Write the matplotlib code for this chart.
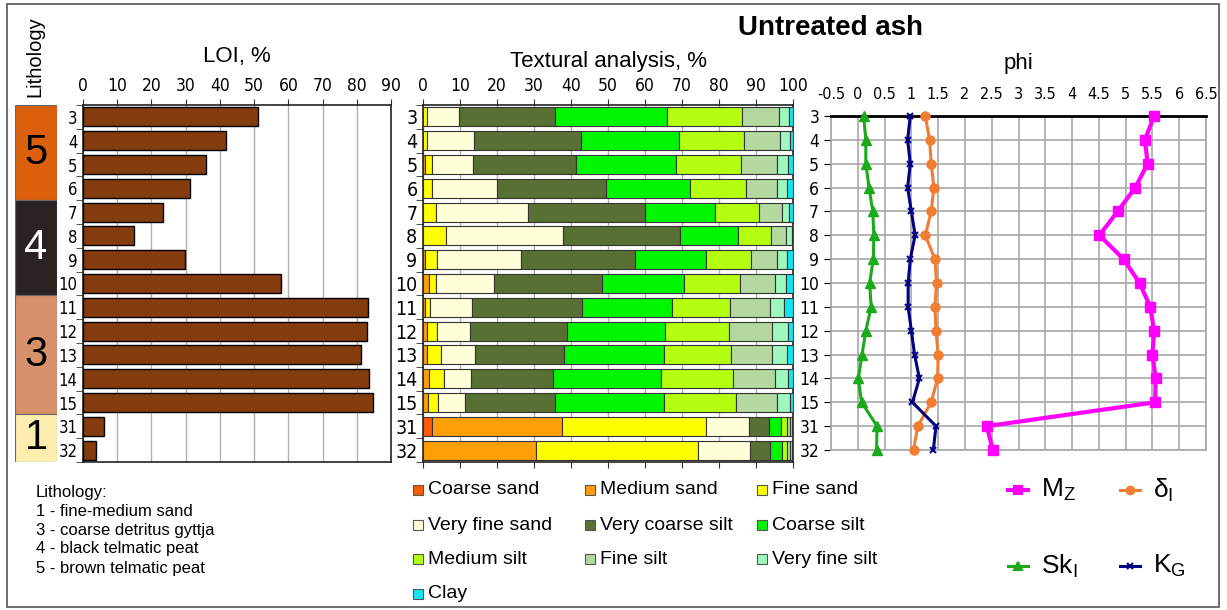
import numpy as np
import matplotlib.pyplot as plt
from matplotlib import font_manager
from matplotlib.patches import Rectangle

plt.rcParams['font.family'] = ['Liberation Sans', 'DejaVu Sans']

# condensed face for tick labels, if one is around
_faces = font_manager.fontManager.ttflist
if any(f.name == 'Liberation Sans Narrow' for f in _faces):
    NARROW = dict(family='Liberation Sans Narrow')
elif any(f.name == 'DejaVu Sans' and f.stretch == 'condensed' for f in _faces):
    NARROW = dict(family='DejaVu Sans', stretch='condensed')
else:
    NARROW = dict(family='Liberation Sans')

# ---------------- data ----------------
samples = ['3', '4', '5', '6', '7', '8', '9', '10', '11', '12', '13', '14', '15', '31', '32']

litho_units = ['5', '4', '3', '1']
litho_rows = [4, 4, 5, 2]
litho_colors = ['#dc600c', '#2b2321', '#d6906a', '#fdeeb0']
litho_text = ['black', 'white', 'black', 'black']
litho_legend = ['Lithology:', '1 - fine-medium sand', '3 - coarse detritus gyttja',
                '4 - black telmatic peat', '5 - brown telmatic peat']

loi = [51.1, 41.7, 35.9, 31.4, 23.3, 14.9, 29.8, 57.9, 83.2, 82.9, 81.3, 83.7, 84.8, 6.1, 3.8]

fractions = ['Coarse sand', 'Medium sand', 'Fine sand', 'Very fine sand', 'Very coarse silt',
             'Coarse silt', 'Medium silt', 'Fine silt', 'Very fine silt', 'Clay']
frac_colors = ['#ff5a05', '#ff9e05', '#ffff00', '#ffffd8', '#587034',
               '#00f500', '#b4ff10', '#b4d9a0', '#9ef7bc', '#10e6f0']
coarse_sand = [0, 0, 0, 0, 0, 0, 0, 0, 0, 0, 0, 0, 0, 2.4, 0]
medium_sand = [0, 0, 0.5, 0, 0, 0, 0.5, 1.6, 0.5, 1.1, 1.1, 1.6, 1.4, 35.1, 30.5]
fine_sand = [1.0, 1.2, 2.0, 2.3, 3.6, 6.3, 3.2, 1.8, 1.3, 2.7, 3.8, 4.2, 2.7, 39.1, 43.9]
vf_sand = [8.6, 12.7, 10.9, 17.8, 24.9, 31.6, 22.8, 15.7, 11.5, 8.8, 9.2, 7.1, 7.2, 11.5, 14.1]
vc_silt = [26.2, 28.9, 27.9, 29.4, 31.5, 31.5, 30.7, 29.4, 29.7, 26.3, 24.1, 22.3, 24.5, 5.3, 5.2]
c_silt = [30.2, 26.4, 27.0, 22.6, 19.0, 15.8, 19.2, 22.0, 24.4, 26.4, 26.8, 29.0, 29.2, 3.4, 3.2]
m_silt = [20.2, 17.6, 17.7, 15.1, 11.8, 8.9, 12.3, 15.1, 15.5, 17.4, 18.2, 19.6, 19.7, 1.6, 1.5]
f_silt = [10.0, 9.8, 9.8, 8.6, 6.1, 4.1, 7.1, 9.4, 10.8, 11.5, 11.2, 11.2, 11.0, 0.9, 0.9]
vf_silt = [2.7, 2.7, 2.8, 2.7, 2.0, 1.4, 2.6, 3.2, 4.0, 4.4, 4.0, 3.7, 3.4, 0.5, 0.5]
clay = [1.1, 0.7, 1.4, 1.5, 1.1, 0.4, 1.6, 1.8, 2.3, 1.4, 1.6, 1.3, 0.9, 0.2, 0.2]
texture = [coarse_sand, medium_sand, fine_sand, vf_sand, vc_silt,
           c_silt, m_silt, f_silt, vf_silt, clay]

mz = [5.53, 5.36, 5.41, 5.18, 4.85, 4.51, 4.96, 5.26, 5.46, 5.53, 5.50, 5.56, 5.55, 2.41, 2.52]
sd = [1.26, 1.34, 1.37, 1.42, 1.37, 1.26, 1.44, 1.47, 1.44, 1.46, 1.50, 1.49, 1.37, 1.12, 1.04]
sk = [0.11, 0.15, 0.15, 0.21, 0.28, 0.30, 0.29, 0.22, 0.25, 0.15, 0.08, 0.01, 0.07, 0.36, 0.35]
kg = [0.98, 0.93, 0.98, 0.93, 1.00, 1.07, 0.98, 0.94, 0.94, 1.00, 1.06, 1.15, 1.02, 1.46, 1.41]
phi_ticks = ['-0.5', '0', '0.5', '1', '1.5', '2', '2.5', '3', '3.5', '4', '4.5',
             '5', '5.5', '6', '6.5']

# ---------------- layout (pixels) ----------------
W, H = 1227, 610
fig = plt.figure(figsize=(W / 100, H / 100), dpi=100)


def px(x0, y0, x1, y1):
    return [x0 / W, 1 - y1 / H, (x1 - x0) / W, (y1 - y0) / H]


rows = np.arange(len(samples))

# overlay for free text / legends in pixel coords
ov = fig.add_axes([0, 0, 1, 1])
ov.set_xlim(0, W)
ov.set_ylim(H, 0)
ov.axis('off')
ov.add_patch(Rectangle((7, 4), 1212, 603, fill=False, ec='#555555', lw=1.2))

# ---------------- lithology column ----------------
axl = fig.add_axes(px(15, 105, 57, 462))
start = -0.5
for unit, n, c, tc in zip(litho_units, litho_rows, litho_colors, litho_text):
    axl.bar(0, n, bottom=start, width=1, color=c, edgecolor='#666666', lw=0.8)
    axl.text(0, start + n / 2, unit, ha='center', va='center', fontsize=30, color=tc)
    start += n
axl.set_xlim(-0.5, 0.5)
axl.set_ylim(len(samples) - 0.5, -0.5)
axl.axis('off')
ov.text(35, 57, 'Lithology', rotation=90, ha='center', va='center', fontsize=14.5)

# ---------------- LOI ----------------
ax1 = fig.add_axes(px(83, 105, 391, 462))
ax1.barh(rows, loi, height=0.8, color='#843c0c', edgecolor='black', lw=1, zorder=3)
ax1.set_xlim(0, 90)
ax1.set_xticks(np.arange(0, 91, 10))
ax1.grid(axis='x', color='#b0b0b0', lw=1, zorder=0)
ax1.set_title('LOI, %', fontsize=16, pad=31)

# ---------------- textural analysis ----------------
ax2 = fig.add_axes(px(423, 105, 793, 462))
left = np.zeros(len(samples))
for name, vals, c in zip(fractions, texture, frac_colors):
    ax2.barh(rows, vals, left=left, height=0.8, color=c, edgecolor='#333333', lw=0.8, zorder=3)
    left += np.array(vals)
ax2.set_xlim(0, 100)
ax2.set_xticks(np.arange(0, 101, 10))
ax2.grid(axis='x', color='#b0b0b0', lw=1, zorder=0)
ax2.set_title('Textural analysis, %', fontsize=16, pad=27)

for ax, fs in ((ax1, 12), (ax2, 14)):
    ax.set_ylim(len(samples) - 0.5, -0.5)
    ax.set_yticks(rows)
    ax.set_yticklabels(samples, fontsize=fs, **NARROW)
    ax.set_yticks(np.arange(-0.5, len(samples)), minor=True)
    ax.tick_params(axis='y', which='major', length=0, pad=4)
    ax.tick_params(axis='y', which='minor', length=5, color='#333333')
    ax.tick_params(axis='x', top=True, bottom=ax is ax2, labeltop=True, labelbottom=False,
                   length=4, labelsize=12.5, color='#333333')
    for lab in ax.get_xticklabels():
        lab.set(**NARROW)
    for s in ax.spines.values():
        s.set_color('#222222')
        s.set_linewidth(1.2)

# ---------------- phi ----------------
ax3 = fig.add_axes(px(831, 116, 1206, 450))
ax3.plot(mz, rows, color='#ff00ff', lw=3, marker='s', ms=7, clip_on=False, zorder=4)
ax3.plot(sd, rows, color='#f07d32', lw=2.2, marker='o', ms=6.5, clip_on=False, zorder=4)
ax3.plot(sk, rows, color='#1aaa1a', lw=2.2, marker='^', ms=7, clip_on=False, zorder=4)
ax3.plot(kg, rows, color='#000080', lw=2.2, marker='x', ms=5, mew=1.5, clip_on=False, zorder=4)
ax3.set_xlim(-0.5, 6.5)
ax3.set_ylim(len(samples) - 1, 0)
ax3.set_xticks(np.arange(-0.5, 6.51, 0.5))
ax3.set_xticklabels(phi_ticks, **NARROW)
ax3.set_yticks(rows)
ax3.set_yticklabels(samples, **NARROW)
ax3.grid(color='#a8a8a8', lw=1.2, zorder=0)
ax3.tick_params(axis='x', top=True, bottom=False, labeltop=True, labelbottom=False,
                length=0, labelsize=11.5, pad=10)
ax3.tick_params(axis='y', length=5, labelsize=12.5, color='black')
for s in ('bottom', 'right', 'left'):
    ax3.spines[s].set_color('#a8a8a8')
    ax3.spines[s].set_linewidth(1.2)
ax3.spines['top'].set_linewidth(2)
ax3.set_title('phi', fontsize=16, pad=34)

ov.text(830, 28, 'Untreated ash', ha='center', va='center', fontsize=20, fontweight='bold')

# ---------------- legends ----------------
for i, line in enumerate(litho_legend):
    ov.text(36, 492 + i * 19, line, ha='left', va='center', fontsize=12)

col_x = [413, 585, 757]
row_y = [490, 525, 559, 594]
for i, (name, c) in enumerate(zip(fractions, frac_colors)):
    x, y = col_x[i % 3], row_y[i // 3]
    ov.add_patch(Rectangle((x, y - 5), 10, 10, fc=c, ec='#555555', lw=0.8))
    ov.text(x + 15, y, name, ha='left', va='center', fontsize=14)

phi_legend = [(r'$\mathregular{M_Z}$', '#ff00ff', 's', 3, 6, 1008, 490),
              (r'$\mathregular{\delta_I}$', '#f07d32', 'o', 2.2, 5.5, 1120, 490),
              (r'$\mathregular{Sk_I}$', '#1aaa1a', '^', 2.2, 6, 1008, 566),
              (r'$\mathregular{K_G}$', '#000080', 'x', 2.2, 5, 1120, 566)]
for label, c, m, lw, ms, x, y in phi_legend:
    ov.plot([x, x + 20], [y, y], color=c, lw=lw)
    ov.plot([x + 10], [y], color=c, marker=m, ms=ms, mew=1.5)
    ov.text(x + 33, y, label, ha='left', va='center', fontsize=19)

fig.savefig('out.png', dpi=100)
